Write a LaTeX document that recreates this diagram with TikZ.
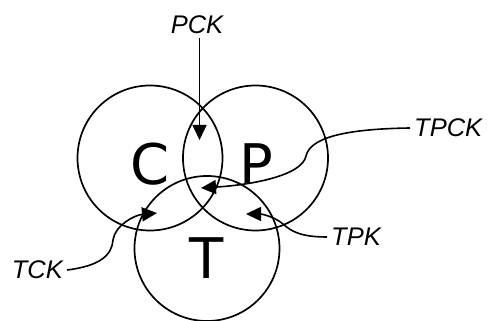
\documentclass[tikz,border=0pt]{standalone}
\usepackage{fontspec}
\setmainfont{Liberation Sans}
\newfontfamily\setfont{DejaVu Sans}
\usetikzlibrary{arrows.meta}

\begin{document}
\begin{tikzpicture}[x=1pt,y=-1pt,
  setcircle/.style={draw, circle, line width=1.7pt, inner sep=0pt, minimum size=145pt},
  setletter/.style={font=\setfont\fontsize{56}{60}\selectfont, inner sep=0pt, anchor=base},
  lab/.style={font=\itshape\fontsize{25.5}{28}\selectfont, inner sep=4pt},
  arr/.style={line width=1.6pt, -{Triangle[length=15pt,width=14pt]}}]
\useasboundingbox (0,0) rectangle (488,321);

% the three sets
\node[setcircle] (cset) at (150,158) {};
\node[setcircle] (pset) at (255.5,158) {};
\node[setcircle] (tset) at (207,248.5) {};

\node[setletter] (cl) at (150,184.5) {C};
\node[setletter] (pl) at (256,184.5) {P};
\node[setletter] (tl) at (207,278) {T};

% labels of the overlaps
\node[lab] (pck) at (197,25) {PCK};
\node[lab, anchor=west] (tpck) at (410,128) {TPCK};
\node[lab, anchor=west] (tpk) at (327,237) {TPK};
\node[lab, anchor=east] (tck) at (67,270) {TCK};

% arrow tips inside the overlaps
\coordinate (pcktip) at (199.5,140);
\coordinate (tpcktip) at (201,188);
\coordinate (tpktip) at (246,214);
\coordinate (tcktip) at (157,213);

\draw[arr] (pcktip |- pck.south) -- (pcktip);
\draw[arr] (tpck.west) .. controls (340,129) and (310,139) .. (306,156)
  .. controls (302,176) and (250,185) .. (tpcktip);
\draw[arr] (tpk.west) .. controls (300,237) and (291,231) .. (283,224)
  .. controls (275,217) and (262,214) .. (tpktip);
\draw[arr] (tck.east) .. controls (100,266) and (112,255) .. (113,240)
  .. controls (115,225) and (135,215) .. (tcktip);
\end{tikzpicture}
\end{document}
